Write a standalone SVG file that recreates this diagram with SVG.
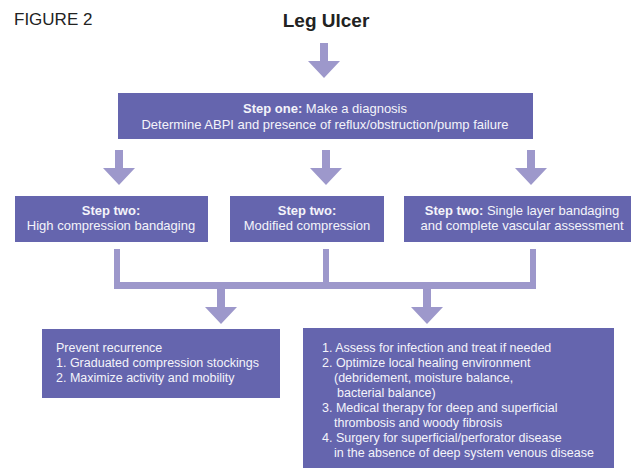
<svg xmlns="http://www.w3.org/2000/svg" xmlns:xlink="http://www.w3.org/1999/xlink" width="634" height="470" viewBox="0 0 634 470">
<style>
.box{fill:#6565ae}
.con{fill:#9d98cb}
.t{font-family:"Liberation Sans",Arial,sans-serif;font-size:12.5px;fill:#f4f4fa}
.l{font-size:13px}
.b{font-weight:bold}
.c{text-anchor:middle}
</style>
<defs>
<path id="arr" d="M-4,0 H4 V18 H16 L0,35 L-16,18 H-4 Z"/>
</defs>
<rect width="634" height="470" fill="#ffffff"/>
<text x="14" y="25" font-family="'Liberation Sans',Arial,sans-serif" font-size="17" fill="#222">FIGURE 2</text>
<text x="326" y="27" font-family="'Liberation Sans',Arial,sans-serif" font-size="19" font-weight="bold" text-anchor="middle" fill="#222">Leg Ulcer</text>
<g id="connectors" class="con">
<use xlink:href="#arr" x="324" y="43"/>
<use xlink:href="#arr" x="119" y="150"/>
<use xlink:href="#arr" x="326" y="150"/>
<use xlink:href="#arr" x="531" y="150"/>
<rect x="114" y="249" width="6" height="35"/>
<rect x="323" y="249" width="6" height="35"/>
<rect x="530" y="249" width="6" height="35"/>
<rect x="114" y="282" width="422" height="7"/>
<use xlink:href="#arr" x="221" y="289"/>
<use xlink:href="#arr" x="427" y="289"/>
</g>
<g id="step1">
<rect class="box" x="118" y="93" width="415" height="46"/>
<text class="t l c" x="325" y="113"><tspan class="b">Step one:</tspan> Make a diagnosis</text>
<text class="t l c" x="325" y="129">Determine ABPI and presence of reflux/obstruction/pump failure</text>
</g>
<g id="step2a">
<rect class="box" x="15" y="196" width="193" height="46"/>
<text class="t l c b" x="111" y="215">Step two:</text>
<text class="t l c" x="111" y="230">High compression bandaging</text>
</g>
<g id="step2b">
<rect class="box" x="230" y="196" width="154" height="46"/>
<text class="t l c b" x="307" y="215">Step two:</text>
<text class="t l c" x="307" y="230">Modified compression</text>
</g>
<g id="step2c">
<rect class="box" x="404" y="196" width="227" height="46"/>
<text class="t l c" x="522" y="215"><tspan class="b">Step two:</tspan> Single layer bandaging</text>
<text class="t l c" x="522" y="230">and complete vascular assessment</text>
</g>
<g id="prevent">
<rect class="box" x="42" y="329" width="238" height="69"/>
<text class="t" x="56" y="352">Prevent recurrence</text>
<text class="t" x="56" y="367">1. Graduated compression stockings</text>
<text class="t" x="56" y="382">2. Maximize activity and mobility</text>
</g>
<g id="treat">
<rect class="box" x="303" y="328" width="311" height="140"/>
<text class="t" x="322" y="352">1. Assess for infection and treat if needed</text>
<text class="t" x="322" y="367">2. Optimize local healing environment</text>
<text class="t" x="334" y="382">(debridement, moisture balance,</text>
<text class="t" x="337" y="397">bacterial balance)</text>
<text class="t" x="322" y="412">3. Medical therapy for deep and superficial</text>
<text class="t" x="334" y="427">thrombosis and woody fibrosis</text>
<text class="t" x="322" y="442">4. Surgery for superficial/perforator disease</text>
<text class="t" x="334" y="457">in the absence of deep system venous disease</text>
</g>
</svg>
